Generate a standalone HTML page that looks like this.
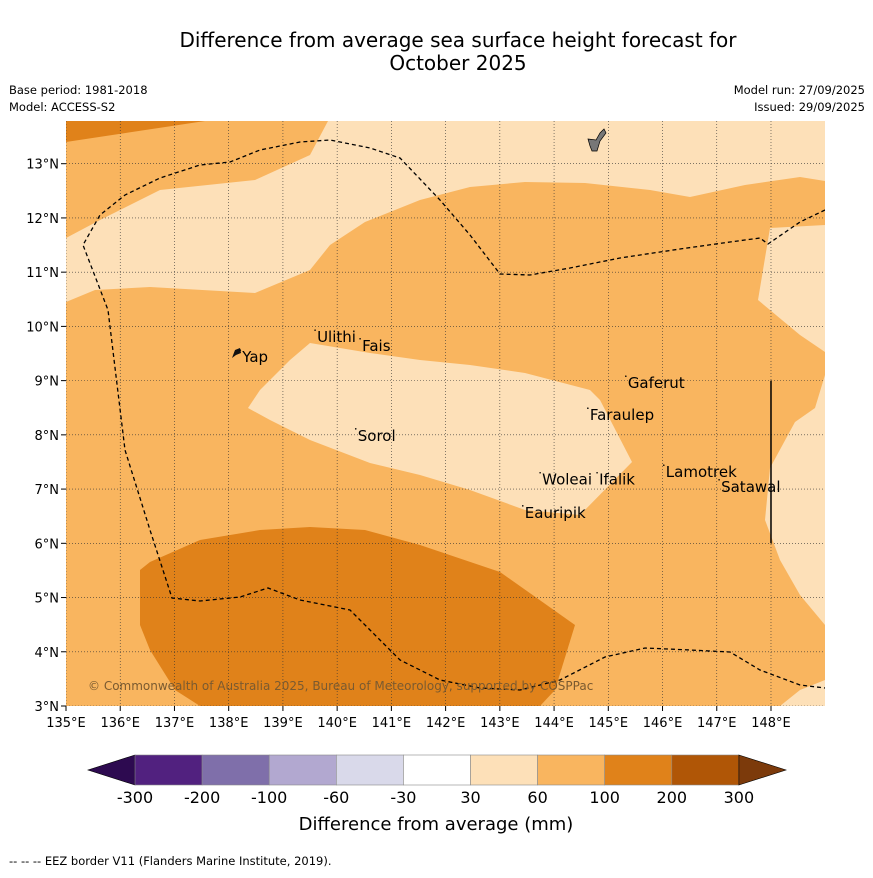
<!DOCTYPE html>
<html><head><meta charset="utf-8"><style>
body{margin:0;background:#fff;font-family:"Liberation Sans","DejaVu Sans",sans-serif}
svg text{font-family:"DejaVu Sans","Liberation Sans",sans-serif}
</style></head><body>
<svg id="s" width="873" height="873" xmlns="http://www.w3.org/2000/svg">
<text x="458" y="47" font-size="20" text-anchor="middle">Difference from average sea surface height forecast for</text>
<text x="458" y="70" font-size="20" text-anchor="middle">October 2025</text>
<text x="9" y="94" font-size="11.5">Base period: 1981-2018</text>
<text x="9" y="111" font-size="11.5">Model: ACCESS-S2</text>
<text x="865" y="94" font-size="11.5" text-anchor="end">Model run: 27/09/2025</text>
<text x="865" y="111" font-size="11.5" text-anchor="end">Issued: 29/09/2025</text>
<defs><clipPath id="mc"><rect x="66" y="121" width="759" height="585"/></clipPath></defs>
<g id="map" clip-path="url(#mc)"></g>
<g id="ax"></g>
<g id="cb"></g>
<text x="436" y="830" font-size="18" text-anchor="middle">Difference from average (mm)</text>
<text x="9" y="865" font-size="11.5">--  --  -- EEZ border V11 (Flanders Marine Institute, 2019).</text>
</svg>
<script>
const lonTicks=[135,136,137,138,139,140,141,142,143,144,145,146,147,148];
const latTicks=[3,4,5,6,7,8,9,10,11,12,13];
const cbLabels=["-300","-200","-100","-60","-30","30","60","100","200","300"];
const cbColors=["#51217f","#7f6faa","#b2a8d0","#d9d9ea","#ffffff","#fde0b8","#f9b55f","#e0821a","#b05606"];
const places=[["Ulithi",139.63,9.71],["Fais",140.46,9.55],["Yap",138.25,9.34],["Gaferut",145.36,8.86],["Faraulep",144.66,8.27],["Sorol",140.38,7.89],["Lamotrek",146.06,7.22],["Woleai",143.78,7.08],["Ifalik",144.83,7.08],["Satawal",147.08,6.95],["Eauripik",143.46,6.47]];
const k=54.23;
const X=lon=>66+(lon-135)*k, Y=lat=>706-(lat-3)*k;
const NS="http://www.w3.org/2000/svg";
function mk(t,a,p){const e=document.createElementNS(NS,t);for(const q in a)e.setAttribute(q,a[q]);p.appendChild(e);return e;}
const px=a=>a.map(p=>[(p[0]-66)/k+135,(706-p[1])/k+3]);
const shapes=[
["#f9b55f",[[66,121],[825,121],[825,706],[66,706]]],
["#e0821a",[[66,121],[205,121],[66,142]]],
["#fde0b8",[[66,238],[100,220],[160,190],[255,180],[310,155],[328,121],[825,121],[825,181],[800,177],[745,185],[690,197],[650,190],[585,183],[525,182],[470,187],[420,200],[365,222],[330,245],[310,270],[255,293],[150,287],[95,290],[66,302]]],
["#fde0b8",[[825,225],[770,228],[758,300],[800,335],[825,352]]],
["#fde0b8",[[825,375],[815,408],[795,422],[770,468],[765,520],[780,560],[800,595],[825,625]]],
["#fde0b8",[[780,706],[800,690],[825,680],[825,706]]],
["#fde0b8",[[310,343],[290,360],[260,390],[248,408],[270,420],[310,440],[370,463],[420,475],[470,490],[525,510],[580,515],[632,462],[600,400],[590,390],[525,373],[470,365],[420,360],[370,353]]],
["#e0821a",[[140,570],[150,562],[200,540],[260,530],[310,527],[365,530],[420,545],[500,572],[575,625],[555,690],[540,706],[200,706],[175,690],[150,650],[140,625]]]
].map(s=>[s[0],px(s[1])]);
const eez=px([[825,210],[800,222],[768,244],[760,238],[730,242],[680,249],[620,258],[570,268],[530,275],[500,274],[470,235],[440,200],[400,158],[370,148],[330,140],[300,142],[260,150],[230,162],[200,165],[160,178],[125,195],[100,215],[83,245],[108,310],[125,450],[150,530],[172,598],[200,601],[240,597],[268,588],[300,600],[350,610],[370,630],[400,660],[440,680],[480,688],[520,690],[560,680],[605,657],[645,648],[690,650],[730,652],[760,670],[800,685],[825,688]]);
const map=document.getElementById('map');
shapes.forEach((s,i)=>{const p=mk('polygon',{points:s[1].map(q=>X(q[0])+','+Y(q[1])).join(' '),fill:s[0]},map);

});
lonTicks.forEach(l=>mk('line',{x1:X(l),x2:X(l),y1:121,y2:706,stroke:'#333','stroke-width':0.6,'stroke-dasharray':'1,2'},map));
latTicks.forEach(l=>mk('line',{x1:66,x2:825,y1:Y(l),y2:Y(l),stroke:'#333','stroke-width':0.6,'stroke-dasharray':'1,2'},map));
const e=mk('polyline',{points:eez.map(q=>X(q[0])+','+Y(q[1])).join(' '),fill:'none',stroke:'#000','stroke-width':1.3,'stroke-dasharray':'4,3'},map);


mk('line',{x1:X(148),x2:X(148),y1:Y(9),y2:Y(6),stroke:'#000','stroke-width':1.5},map);
mk('polygon',{points:'232,358 235,350 240,348 241,353 236,355',fill:'#111'},map);
const g=mk('path',{d:'M588,139 L596,140 L600,133 L604,129 L606,133 L600,141 L597,151 L592,151 L590,146 Z',fill:'#777',stroke:'#000','stroke-width':0.7},map);


places.forEach(p=>{mk('circle',{cx:X(p[1])-2,cy:Y(p[2])-12,r:0.8,fill:'#000'},map);
const t=mk('text',{x:X(p[1]),y:Y(p[2]),'font-size':15},map);t.textContent=p[0];

});
const cp=mk('text',{x:88,y:690,'font-size':12,fill:'#7a5a30'},map);cp.textContent="© Commonwealth of Australia 2025, Bureau of Meteorology, supported by COSPPac";


const ax=document.getElementById('ax');
lonTicks.forEach(l=>{mk('line',{x1:X(l),x2:X(l),y1:706,y2:711,stroke:'#000'},ax);
const t=mk('text',{x:X(l),y:727,'font-size':13,'text-anchor':'middle'},ax);t.textContent=l+'°E';

});
latTicks.forEach(l=>{mk('line',{x1:61,x2:66,y1:Y(l),y2:Y(l),stroke:'#000'},ax);
const t=mk('text',{x:59,y:Y(l)+5,'font-size':13,'text-anchor':'end'},ax);t.textContent=l+'°N';

});
const cb=document.getElementById('cb');
const bx=135,bw=67.1,by=755,bh=30;
mk('polygon',{points:`${bx},${by} ${bx},${by+bh} 88,${by+bh/2}`,fill:'#2d0a50',stroke:'#000','stroke-width':0.6},cb);
cbColors.forEach((c,i)=>{const r=mk('rect',{x:bx+i*bw,y:by,width:bw,height:bh,fill:c,stroke:'#888','stroke-width':0.6},cb);

});
const ex=bx+cbColors.length*bw;
mk('polygon',{points:`${ex},${by} ${ex},${by+bh} 786,${by+bh/2}`,fill:'#7c3a0b',stroke:'#000','stroke-width':0.6},cb);
cbLabels.forEach((l,i)=>{const t=mk('text',{x:bx+i*bw,y:803,'font-size':16,'text-anchor':'middle'},cb);t.textContent=l;

});
</script>
</body></html>
